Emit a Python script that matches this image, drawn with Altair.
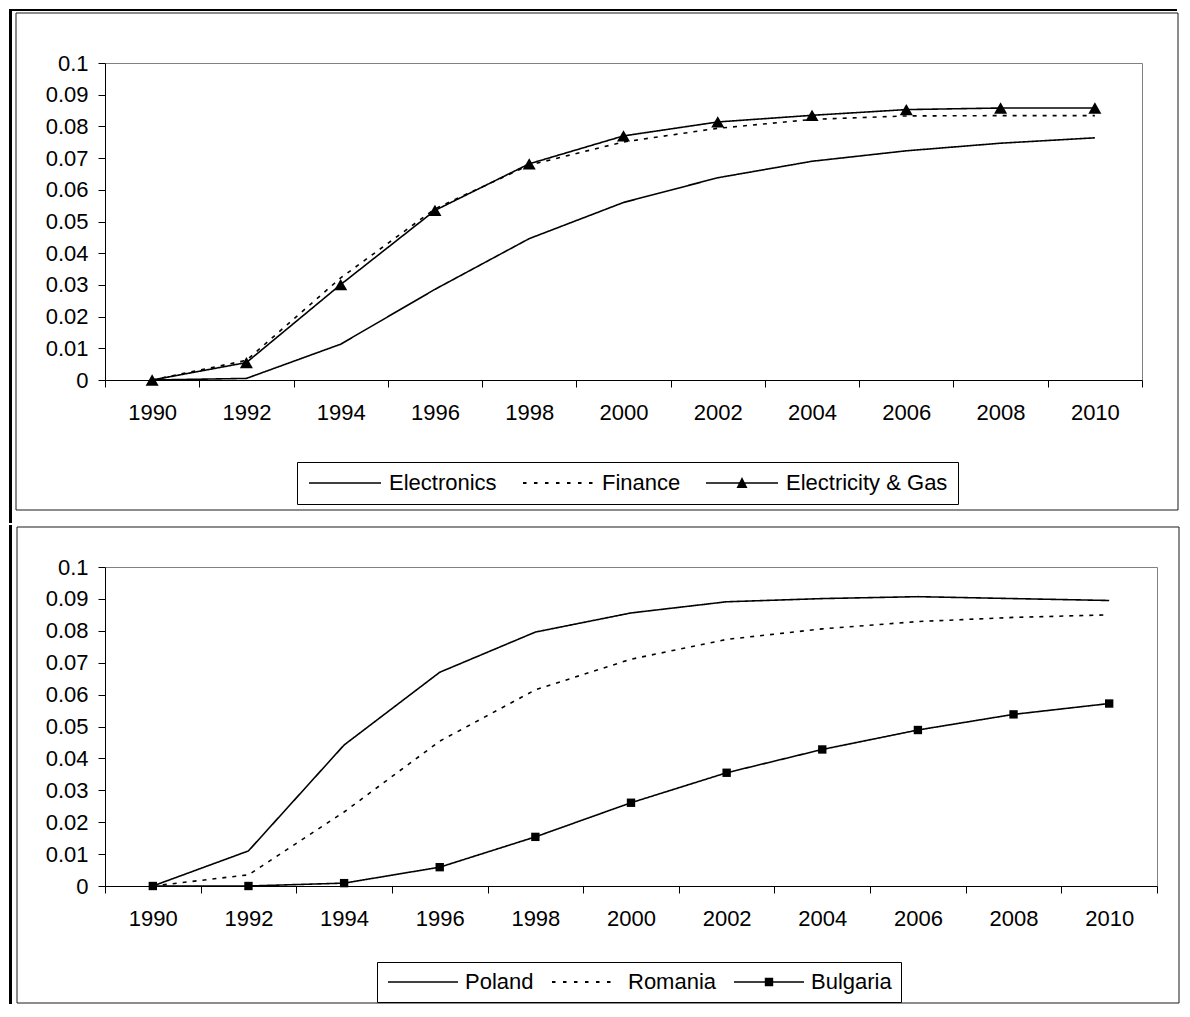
import altair as alt
import pandas as pd

# ---------------- data ----------------
years = ["1990", "1992", "1994", "1996", "1998", "2000",
         "2002", "2004", "2006", "2008", "2010"]

top_names = ["Electronics", "Finance", "Electricity & Gas"]
electronics = [0.0, 0.0005, 0.0113, 0.0286, 0.0446, 0.0560, 0.0638, 0.0690, 0.0723, 0.0747, 0.0764]
finance = [0.0, 0.0062, 0.0322, 0.0540, 0.0678, 0.0751, 0.0794, 0.0822, 0.0833, 0.0834, 0.0834]
elec_gas = [0.0, 0.0055, 0.0301, 0.0535, 0.0682, 0.0770, 0.0814, 0.0835, 0.0853, 0.0858, 0.0858]

bottom_names = ["Poland", "Romania", "Bulgaria"]
poland = [0.0, 0.0110, 0.0442, 0.0670, 0.0796, 0.0856, 0.0891, 0.0901, 0.0907, 0.0901, 0.0895]
romania = [0.0, 0.0035, 0.0232, 0.0454, 0.0615, 0.0711, 0.0773, 0.0806, 0.0829, 0.0842, 0.0850]
bulgaria = [0.0, 0.0000, 0.0009, 0.0059, 0.0154, 0.0261, 0.0355, 0.0428, 0.0489, 0.0538, 0.0572]

y_ticks = [0, 0.01, 0.02, 0.03, 0.04, 0.05, 0.06, 0.07, 0.08, 0.09, 0.1]

FONT = "Liberation Sans, Arial, sans-serif"


def long_table(field, names, series):
    rows = []
    for n, vals in zip(names, series):
        for yr, v in zip(years, vals):
            rows.append({"year": yr, "value": v, field: n})
    return pd.DataFrame(rows)


one = pd.DataFrame({"k": [0]})


def box(x1, x2, y1, y2, **kw):
    return alt.Chart(one).mark_rect(**kw).encode(
        x=alt.value(x1), x2=alt.value(x2), y=alt.value(y1), y2=alt.value(y2))


# legend key glyphs (unit = 10 px with symbolSize 400), drawn as filled paths
def bar(a, b, t=0.08):
    return "M%.3f,%.3fL%.3f,%.3fL%.3f,%.3fL%.3f,%.3fZ" % (a, -t, b, -t, b, t, a, t)


def solid_key(half):
    return bar(-half, half)


def dotted_key(half, period=1.1, dash=0.35):
    p = ""
    s = -half + 0.1
    while s + dash <= half + 0.01:
        p += bar(s, s + dash, 0.09)
        s += period
    return p


def panel(field, names, series, dashes, marker_name, marker_shape, marker_size,
          legend_shapes, sym_offset, lab_offset, col_pad, leg_pad,
          leg_x, leg_y, w, h, decor):
    df = long_table(field, names, series)
    xenc = alt.X("year:O", sort=years,
                 scale=alt.Scale(type="band", paddingInner=0, paddingOuter=0),
                 axis=alt.Axis(title=None, labelAngle=0, tickBand="extent",
                               domainColor="black", tickColor="black", tickSize=7,
                               labelFontSize=22, labelPadding=15, labelColor="black",
                               labelFont=FONT, grid=False, labelOverlap=False))
    yenc = alt.Y("value:Q", scale=alt.Scale(domain=[0, 0.1], nice=False, zero=True),
                 axis=alt.Axis(title=None, values=y_ticks, format=".2~f",
                               domainColor="black", tickColor="black", tickSize=7,
                               labelFontSize=22, labelPadding=10, labelColor="black",
                               labelFont=FONT, grid=False, labelOverlap=False))
    legend = alt.Legend(
        title=None, orient="none", legendX=leg_x, legendY=leg_y,
        direction="horizontal", columns=3,
        symbolSize=400, symbolOffset=sym_offset,
        labelOffset=lab_offset, symbolStrokeColor="black", symbolFillColor="black",
        symbolStrokeWidth=0, symbolOpacity=1,
        labelFont=FONT, labelFontSize=22, labelColor="black", labelLimit=400,
        strokeColor="black", fillColor="white", padding=leg_pad,
        columnPadding=col_pad)
    lines = alt.Chart(df).mark_line(color="black", strokeWidth=1.6).encode(
        x=xenc, y=yenc,
        strokeDash=alt.StrokeDash(field + ":N",
                                  scale=alt.Scale(domain=names, range=dashes),
                                  legend=legend))
    pts = alt.Chart(df).transform_filter(
        alt.FieldEqualPredicate(field=field, equal=marker_name)
    ).mark_point(shape=marker_shape, filled=True, size=marker_size,
                 color="black", opacity=1).encode(x=xenc, y=yenc)
    # legend-only layer (no rows drawn): gives each legend entry its key glyph
    key = alt.Chart(df).transform_filter(
        alt.datum.value < 0
    ).mark_point(filled=True, color="black", opacity=1).encode(
        x=xenc, y=yenc,
        shape=alt.Shape(field + ":N",
                        scale=alt.Scale(domain=names, range=legend_shapes),
                        legend=legend))
    return alt.layer(*decor, lines, pts, key).properties(width=w, height=h)


# both plot areas start at page x = 104 (vconcat aligns their origins)
# ---------------- top panel ----------------
# plot area 1037 x 317, origin at page (104, 62)
top_decor = [
    box(-96, -93, -54, 460, fill="black"),
    box(-96, 1072, -54, -52, fill="black"),
    box(-89, 1073, -50, 447, fill="transparent", stroke="#1a1a1a", strokeWidth=1),
]
top = panel("sector", top_names, [electronics, finance, elec_gas],
            [[1, 0], [4, 6], [1, 0]], "Electricity & Gas", "triangle-up", 170,
            [solid_key(3.6), dotted_key(3.6),
             solid_key(3.6) + "M-0.55,0.5L0,-0.6L0.55,0.5Z"],
            27, 33, 23, 10, 192, 399, 1037, 317, top_decor)

# ---------------- bottom panel ----------------
# plot area 1052 x 319, origin at page (104, 564)
bot_decor = [
    box(-96, -93, -42, 437, fill="black"),
    box(-88, 1074, -40, 436, fill="transparent", stroke="#1a1a1a", strokeWidth=1),
]
bottom = panel("country", bottom_names, [poland, romania, bulgaria],
               [[1, 0], [4, 6], [1, 0]], "Bulgaria", "square", 70,
               [solid_key(3.5), dotted_key(3.5),
                solid_key(3.5) + "M-0.42,-0.42L0.42,-0.42L0.42,0.42L-0.42,0.42Z"],
               26, 31, 15, 9, 272, 395, 1052, 319, bot_decor)

chart = alt.vconcat(top, bottom, spacing=0).properties(
    padding=0, background="white"
).resolve_scale(
    shape="independent", strokeDash="independent"
).resolve_legend(
    shape="independent", strokeDash="independent"
).configure_view(stroke="#808080", strokeWidth=1)

chart.save("out.html", embed_options={"renderer": "svg", "actions": False})
